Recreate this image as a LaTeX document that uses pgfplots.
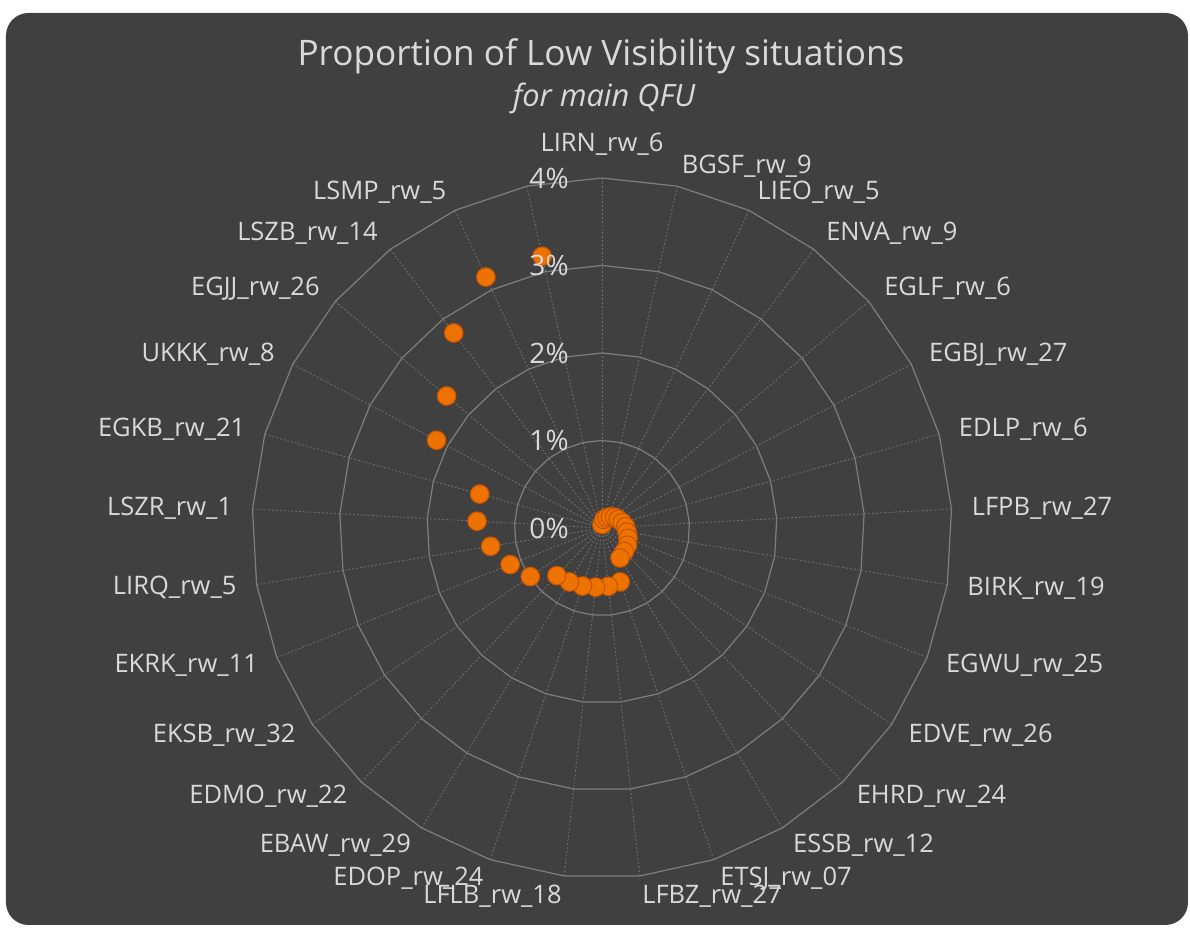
\documentclass[border=0pt]{standalone}
\usepackage{pgfplots}
\pgfplotsset{compat=1.18}
\usepackage{pgfplotstable}
\usepackage{fontspec}
\setmainfont{Open Sans}

\definecolor{bg}{RGB}{64,64,64}
\definecolor{txt}{RGB}{217,217,217}
\definecolor{ringc}{RGB}{125,125,125}
\definecolor{spokec}{RGB}{112,112,112}
\definecolor{dotfill}{RGB}{238,114,0}
\definecolor{dotedge}{RGB}{200,84,0}

% share of low visibility situations [%], clockwise from LIRN_rw_6
\pgfplotstableread{
idx val
0  0.04
1  0.10
2  0.13
3  0.16
4  0.19
5  0.21
6  0.24
7  0.27
8  0.29
9  0.32
10 0.35
11 0.37
12 0.40
13 0.65
14 0.67
15 0.68
16 0.70
17 0.72
18 0.75
19 0.99
20 1.13
21 1.29
22 1.43
23 1.45
24 2.14
25 2.33
26 2.80
27 3.16
28 3.18
}\lvp

\begin{document}
\begin{tikzpicture}
\useasboundingbox[fill=white] (-12.04,-8.0) rectangle (11.76,10.56);
\fill[bg, rounded corners=0.45cm] (-11.92,-7.94) rectangle (11.72,10.30);

% polygon rings and spokes (1% = 1.75cm)
\foreach \r in {1,...,4}
  \draw[ringc, line width=0.7pt] (90:1.75*\r) \foreach \i in {1,...,28}{ -- (90-\i*360/29:1.75*\r)} -- cycle;
\foreach \i in {0,...,28}
  \draw[spokec, line width=0.5pt, dash pattern=on 1pt off 1.2pt] (0,0) -- (90-\i*360/29:7);

\begin{axis}[
  at={(0,0)}, anchor=origin,
  x=1.75cm, y=1.75cm,
  xmin=-4.5, xmax=4.5, ymin=-4.5, ymax=4.5,
  hide axis, clip=false
]
\addplot[data cs=polar, only marks, mark=*, mark size=5.3pt,
  mark options={fill=dotfill, draw=dotedge, line width=0.6pt}]
  table[x expr={90-\thisrow{idx}*360/29}, y=val] {\lvp};
\end{axis}

\begin{scope}[txt, font=\fontsize{14.5}{17}\selectfont]
\node at (90:7.68) {LIRN\_rw\_6};
\foreach \i/\n in {1/BGSF\_rw\_9, 2/LIEO\_rw\_5, 3/ENVA\_rw\_9, 4/EGLF\_rw\_6,
  5/EGBJ\_rw\_27, 6/EDLP\_rw\_6, 7/LFPB\_rw\_27, 8/BIRK\_rw\_19, 9/EGWU\_rw\_25,
  10/EDVE\_rw\_26, 11/EHRD\_rw\_24, 12/ESSB\_rw\_12, 13/ETSJ\_rw\_07, 14/LFBZ\_rw\_27}
  \node[anchor=west, inner sep=0pt] at (90-\i*360/29:7.4) {\n};
\foreach \i/\n in {15/LFLB\_rw\_18, 16/EDOP\_rw\_24, 17/EBAW\_rw\_29, 18/EDMO\_rw\_22,
  19/EKSB\_rw\_32, 20/EKRK\_rw\_11, 21/LIRQ\_rw\_5, 22/LSZR\_rw\_1, 23/EGKB\_rw\_21,
  24/UKKK\_rw\_8, 25/EGJJ\_rw\_26, 26/LSZB\_rw\_14, 27/LSMP\_rw\_5}
  \node[anchor=east, inner sep=0pt] at (90-\i*360/29:7.4) {\n};
\end{scope}

\foreach \r in {0,...,4}
  \node[txt, anchor=east, inner sep=0pt, font=\fontsize{16}{19}\selectfont] at (-0.66,1.75*\r) {\r\%};

\node[txt, font=\fontsize{20}{24}\selectfont] at (-0.02,9.44) {Proportion of Low Visibility situations};
\node[txt, font=\fontsize{17.5}{21}\selectfont\itshape] at (0.04,8.6) {for main QFU};
\end{tikzpicture}
\end{document}
